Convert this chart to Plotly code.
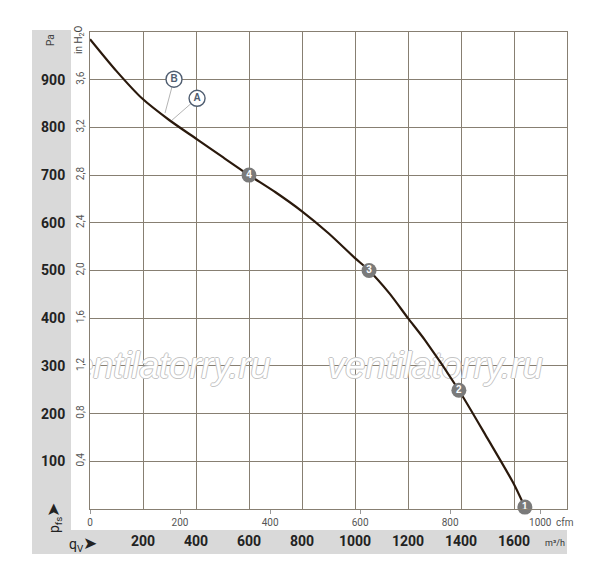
import plotly.graph_objects as go

# ---- data ----
q_m3h = [0, 100, 196, 300, 404, 500, 600, 700, 800, 900, 1000, 1053, 1130, 1200, 1264, 1392, 1500, 1596, 1641]
p_pa = [985, 918, 861, 815, 775, 738, 700, 664, 624, 578, 526, 500, 452, 400, 354, 249, 148, 56, 4]

op_q = [1641, 1392, 1053, 600]
op_p = [4, 249, 500, 700]
op_labels = ["1", "2", "3", "4"]

ab_q = [317, 404]
ab_p = [901, 861]
ab_labels = ["B", "A"]
ab_curve_q = [283, 309]
ab_curve_p = [830, 815]

m3h_ticks = [200, 400, 600, 800, 1000, 1200, 1400, 1600]
m3h_ticktext = [str(v) for v in m3h_ticks]
cfm_ticks = [0, 200, 400, 600, 800, 1000]
cfm_ticktext = ["0", "200", "400", "600", "800", "1000"]
pa_ticks = [100, 200, 300, 400, 500, 600, 700, 800, 900]
pa_ticktext = [str(v) for v in pa_ticks]
inh2o_ticks = [0.4, 0.8, 1.2, 1.6, 2.0, 2.4, 2.8, 3.2, 3.6]
inh2o_ticktext = ["0,4", "0,8", "1,2", "1,6", "2,0", "2,4", "2,8", "3,2", "3,6"]

watermark_q = [275, 1302]
watermark_p = [293, 293]
watermark_text = ["ventilatorry.ru", "ventilatorry.ru"]

Q_MAX = 1800
P_MAX = 1000
CFM_PER_M3H = 1 / 1.69901

GRID = "#877f72"
FONT = "Roboto, Arial, sans-serif"

# page offset of the figure inside the browser window
OFF = 8
L, R, T, B = 90 - OFF, 33 + OFF, 32 - OFF, 75 + OFF
W, H = 600, 584
PW, PH = W - L - R, H - T - B


def px_x(px):
    return (px - OFF - L) / PW


def px_y(py):
    return (H - B - (py - OFF)) / PH


fig = go.Figure()

# watermark
fig.add_trace(go.Scatter(
    x=watermark_q, y=watermark_p, mode="text", text=watermark_text,
    textposition="middle center",
    textfont=dict(family="Liberation Sans, Arial", size=36, color="white", style="italic",
                  shadow="1px 0 0 #c4c4c4, -1px 0 0 #c4c4c4, 0 1px 0 #c4c4c4, 0 -1px 0 #c4c4c4"),
    hoverinfo="skip", showlegend=False,
))

# leader lines for A/B
lx, ly = [], []
for a, b, c, d in zip(ab_q, ab_p, ab_curve_q, ab_curve_p):
    lx += [a, c, None]
    ly += [b, d, None]
fig.add_trace(go.Scatter(x=lx, y=ly, mode="lines", line=dict(color="#b4b4b4", width=1),
                         hoverinfo="skip", showlegend=False))

# curve
fig.add_trace(go.Scatter(x=q_m3h, y=p_pa, mode="lines",
                         line=dict(color="#2a190c", width=2.2, shape="spline", smoothing=0.7),
                         showlegend=False))

# operating points
fig.add_trace(go.Scatter(x=op_q, y=op_p, mode="markers+text", text=op_labels,
                         textposition="middle center",
                         marker=dict(size=15, color="#7a7a7a"),
                         textfont=dict(family="Liberation Sans, Arial", size=10, color="white", weight="bold"),
                         cliponaxis=False, showlegend=False))

# A / B labels
fig.add_trace(go.Scatter(x=ab_q, y=ab_p, mode="markers+text", text=ab_labels,
                         textposition="middle center",
                         marker=dict(size=16, color="white", line=dict(color="#4f5d70", width=1.4)),
                         textfont=dict(family="Liberation Sans, Arial", size=10, color="#4f5d70", weight="bold"),
                         showlegend=False))

# dummy trace for the cfm axis
fig.add_trace(go.Scatter(x=[0, Q_MAX * CFM_PER_M3H], y=[0, 0], xaxis="x2", mode="lines",
                         line=dict(width=0), hoverinfo="skip", showlegend=False))
# dummy trace for inH2O axis
fig.add_trace(go.Scatter(x=[0, 0], y=[0, 4], yaxis="y2", mode="lines",
                         line=dict(width=0), hoverinfo="skip", showlegend=False))

shapes = [
    dict(type="rect", xref="paper", yref="paper", layer="below",
         x0=px_x(32), x1=px_x(71), y0=px_y(554), y1=px_y(30),
         fillcolor="#d9d9d9", line=dict(width=0)),
    dict(type="rect", xref="paper", yref="paper", layer="below",
         x0=px_x(32), x1=px_x(567), y0=px_y(554), y1=px_y(530),
         fillcolor="#d9d9d9", line=dict(width=0)),
]


def ann(text, x, y, size, color, angle=0, xanchor="center"):
    return dict(text=text, xref="paper", yref="paper", x=px_x(x), y=px_y(y),
                textangle=angle, xanchor=xanchor, yanchor="middle", showarrow=False,
                font=dict(family=FONT, size=size, color=color))


ARROW = "<span style='font-size:17px'>➤</span>"

annotations = [
    ann("Pa", 51, 40, 10, "#444", -90),
    ann("in H<sub>2</sub>O", 80, 40, 10, "#444", -90),
    ann("p<sub>fs</sub>" + ARROW, 53, 518, 14, "#222", -90),
    ann("q<sub>V</sub>" + ARROW, 83, 543, 14, "#222"),
    ann("m³/h", 567, 543, 9, "#333", xanchor="right"),
    ann("cfm", 554, 522, 10, "#555", xanchor="left"),
]

fig.update_layout(
    width=W, height=H,
    margin=dict(l=L, r=R, t=T, b=B, pad=0),
    paper_bgcolor="white", plot_bgcolor="white",
    showlegend=False,
    shapes=shapes, annotations=annotations,
    xaxis=dict(range=[0, Q_MAX], tickvals=m3h_ticks, ticktext=m3h_ticktext,
               showgrid=True, gridcolor=GRID, gridwidth=1, zeroline=False,
               showline=True, linecolor=GRID, linewidth=1, mirror=True,
               ticks="", ticklabelstandoff=19,
               tickfont=dict(family=FONT, size=14, color="#222", weight="bold")),
    xaxis2=dict(range=[0, Q_MAX * CFM_PER_M3H], overlaying="x", side="bottom", anchor="y",
                tickvals=cfm_ticks, ticktext=cfm_ticktext, showgrid=False, zeroline=False,
                ticks="outside", ticklen=4, tickcolor="#999", tickwidth=1,
                tickfont=dict(family=FONT, size=10, color="#555")),
    yaxis=dict(range=[0, P_MAX], tickvals=pa_ticks, ticktext=pa_ticktext,
               showgrid=True, gridcolor=GRID, gridwidth=1, zeroline=False,
               showline=True, linecolor=GRID, linewidth=1, mirror=True,
               ticks="", ticklabelstandoff=21,
               tickfont=dict(family=FONT, size=14, color="#222", weight="bold")),
    yaxis2=dict(range=[0, 4], overlaying="y", side="left", anchor="x",
                tickvals=inh2o_ticks, ticktext=inh2o_ticktext, tickangle=-90,
                showgrid=False, zeroline=False, ticks="", ticklabelstandoff=3,
                tickfont=dict(family=FONT, size=10, color="#555")),
)

fig.write_html("out.html")
